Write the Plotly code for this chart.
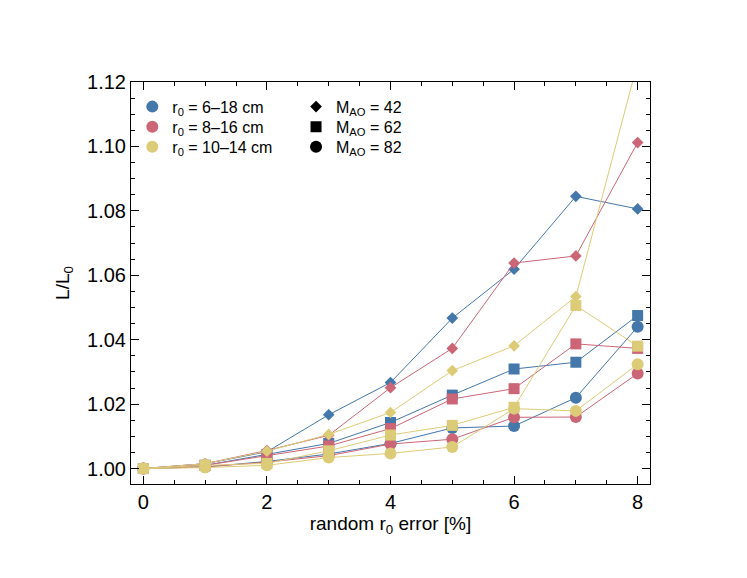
import plotly.graph_objects as go

err = [0, 1, 2, 3, 4, 5, 6, 7, 8]

# r0 = 6-18 cm
blue_m42 = [1.000, 1.0015, 1.0052, 1.0167, 1.0267, 1.0467, 1.0619, 1.0845, 1.0806]
blue_m62 = [1.000, 1.0010, 1.0044, 1.0078, 1.0143, 1.0228, 1.0309, 1.0330, 1.0475]
blue_m82 = [1.000, 1.0005, 1.0022, 1.0045, 1.0078, 1.0126, 1.0132, 1.0220, 1.0440]
# r0 = 8-16 cm
red_m42 = [1.000, 1.0015, 1.0056, 1.0103, 1.0251, 1.0373, 1.0638, 1.0660, 1.1012]
red_m62 = [1.000, 1.0010, 1.0040, 1.0070, 1.0124, 1.0216, 1.0248, 1.0387, 1.0373]
red_m82 = [1.000, 1.0005, 1.0020, 1.0040, 1.0076, 1.0091, 1.0159, 1.0160, 1.0295]
# r0 = 10-14 cm
yel_m42 = [1.000, 1.0015, 1.0054, 1.0106, 1.0174, 1.0304, 1.0381, 1.0534, 1.1260]
yel_m62 = [1.000, 1.0010, 1.0016, 1.0055, 1.0104, 1.0134, 1.0190, 1.0506, 1.0380]
yel_m82 = [1.000, 1.0003, 1.0010, 1.0034, 1.0047, 1.0067, 1.0186, 1.0179, 1.0324]

colors = {"blue": "#4477AA", "red": "#CC6677", "yellow": "#DDCC77"}
r0_labels = {"blue": "r<sub>0</sub> = 6–18 cm",
             "red": "r<sub>0</sub> = 8–16 cm",
             "yellow": "r<sub>0</sub> = 10–14 cm"}
mao_labels = ["M<sub>AO</sub> = 42", "M<sub>AO</sub> = 62", "M<sub>AO</sub> = 82"]
symbols = ["diamond", "square", "circle"]
sizes = [9, 11, 12]

series = {
    "blue": [blue_m42, blue_m62, blue_m82],
    "red": [red_m42, red_m62, red_m82],
    "yellow": [yel_m42, yel_m62, yel_m82],
}

fig = go.Figure()

for name, ys in series.items():
    for y, sym, sz in zip(ys, symbols, sizes):
        fig.add_trace(go.Scatter(
            x=err, y=y, mode="lines+markers", showlegend=False,
            line=dict(color=colors[name], width=1),
            marker=dict(symbol=sym, size=sz, color=colors[name], line=dict(width=0)),
        ))

# legend: one small legend per row so the row spacing matches
row_y = [0.9385, 0.8886, 0.8388]
legend_common = dict(
    bgcolor="rgba(0,0,0,0)", font=dict(size=16, color="black"),
    yanchor="middle", xanchor="left", itemwidth=30,
)
legends = {}
n = 1
for i, name in enumerate(series):
    key = "legend" if n == 1 else f"legend{n}"
    fig.add_trace(go.Scatter(
        x=[None], y=[None], mode="markers", name=r0_labels[name], legend=key,
        marker=dict(symbol="circle", size=12, color=colors[name]),
    ))
    legends[key] = dict(x=0.0025, y=row_y[i], **legend_common)
    n += 1
for i, (lab, sym, sz) in enumerate(zip(mao_labels, symbols, sizes)):
    key = f"legend{n}"
    fig.add_trace(go.Scatter(
        x=[None], y=[None], mode="markers", name=lab, legend=key,
        marker=dict(symbol=sym, size=sz, color="black"),
    ))
    legends[key] = dict(x=0.318, y=row_y[i], **legend_common)
    n += 1

axis_common = dict(
    showgrid=False, zeroline=False, showline=True, linecolor="black", linewidth=1,
    mirror="allticks", ticks="inside", ticklen=8, tickcolor="black",
    tickfont=dict(size=20, color="black"),
)

fig.update_xaxes(
    range=[-0.2, 8.2], tick0=0, dtick=2,
    minor=dict(ticks="inside", dtick=0.5, ticklen=4, tickcolor="black"),
    title=dict(text="random r<sub>0</sub> error [%]", font=dict(size=19, color="black"), standoff=2),
    **axis_common,
)
fig.update_yaxes(
    range=[0.9952, 1.12], tick0=1.0, dtick=0.02, tickformat=".2f",
    minor=dict(ticks="inside", dtick=0.005, ticklen=4, tickcolor="black"),
    title=dict(text="L/L<sub>0</sub>", font=dict(size=19, color="black"), standoff=12),
    **axis_common,
)

fig.update_layout(
    width=747, height=578,
    margin=dict(l=123, r=105, t=74, b=102),
    paper_bgcolor="white", plot_bgcolor="white",
    font=dict(family="Liberation Sans, Arial, sans-serif", color="black"),
    **legends,
)

fig.write_html("out.html")
